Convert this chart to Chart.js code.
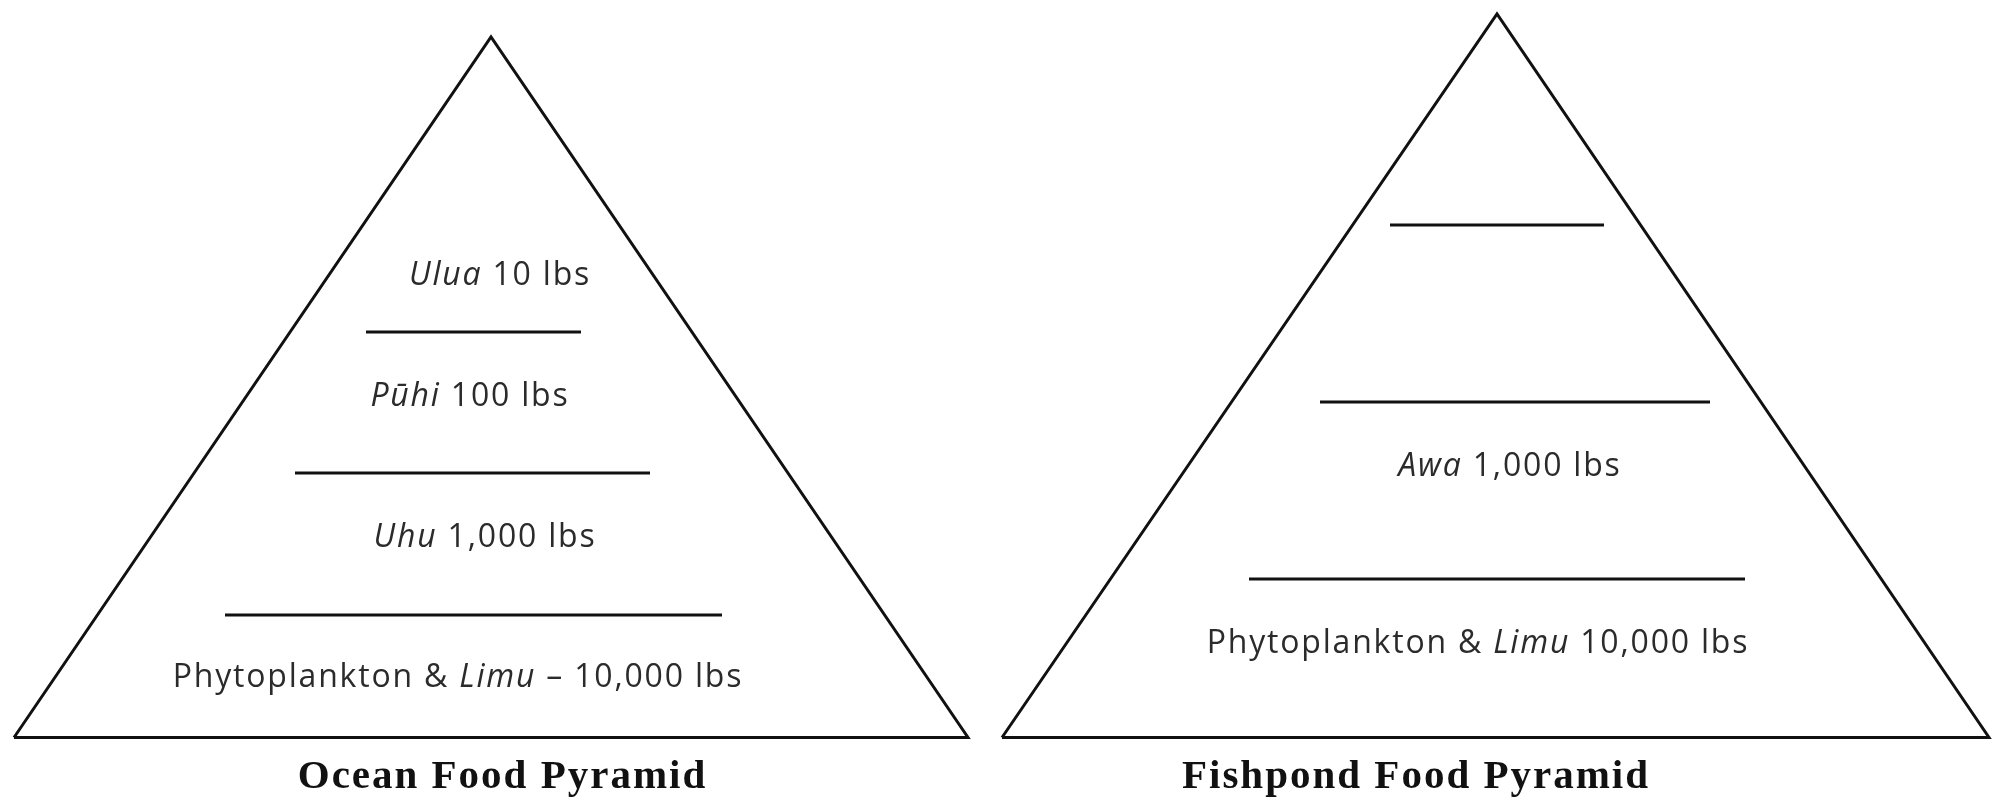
<!DOCTYPE html>
<html>
<head>
<meta charset="utf-8">
<script src="https://cdn.jsdelivr.net/npm/chart.js@4.4.1/dist/chart.umd.min.js"></script>
<style>
  html, body { margin: 0; padding: 0; background: #ffffff; }
  #wrap { width: 1992px; height: 800px; }
</style>
</head>
<body>
<div id="wrap"><canvas id="c" width="1992" height="800"></canvas></div>
<script>
// Diagram units: x 0..199.2, y 0..80 (y measured upward)
const oceanTriangleX = [1.4, 49.1, 96.8, 1.4];
const oceanTriangleY = [6.25, 76.3, 6.25, 6.25];
const oceanLevelY  = [46.8, 32.7, 18.5];
const oceanLevelX0 = [36.6, 29.5, 22.5];
const oceanLevelX1 = [58.1, 65.0, 72.2];

const fishTriangleX = [100.2, 149.7, 198.9, 100.2];
const fishTriangleY = [6.25, 78.6, 6.25, 6.25];
const fishLevelY  = [57.5, 39.8, 22.1];
const fishLevelX0 = [139.0, 132.0, 124.9];
const fishLevelX1 = [160.4, 171.0, 174.5];

// label text pieces: [text, italic]
const oceanLabels = [
  [['Ulua', 1], [' 10 lbs', 0]],
  [['Pūhi', 1], [' 100 lbs', 0]],
  [['Uhu', 1], [' 1,000 lbs', 0]],
  [['Phytoplankton & ', 0], ['Limu', 1], [' – 10,000 lbs', 0]]
];
const oceanLabelX = [50.0, 47.0, 48.5, 45.8];
const oceanLabelY = [51.5, 39.4, 25.3, 11.3];

const fishLabels = [
  [['Awa', 1], [' 1,000 lbs', 0]],
  [['Phytoplankton & ', 0], ['Limu', 1], [' 10,000 lbs', 0]]
];
const fishLabelX = [151.0, 147.8];
const fishLabelY = [32.4, 14.7];

const titles = ['Ocean Food Pyramid', 'Fishpond Food Pyramid'];
const titleX = [50.25, 141.6];
const titleY = [1.2, 1.2];

function pts(xs, ys) { return xs.map((x, i) => ({ x: x, y: ys[i] })); }

const lineStyle = {
  borderColor: '#111111',
  borderWidth: 3,
  pointRadius: 0,
  showLine: true,
  tension: 0,
  fill: false,
  borderJoinStyle: 'miter',
  borderCapStyle: 'butt',
  clip: false
};

const datasets = [];
datasets.push(Object.assign({ data: pts(oceanTriangleX, oceanTriangleY) }, lineStyle));
datasets.push(Object.assign({ data: pts(fishTriangleX, fishTriangleY) }, lineStyle));
oceanLevelY.forEach((y, i) => {
  datasets.push(Object.assign({ data: [{ x: oceanLevelX0[i], y: y }, { x: oceanLevelX1[i], y: y }] }, lineStyle));
});
fishLevelY.forEach((y, i) => {
  datasets.push(Object.assign({ data: [{ x: fishLevelX0[i], y: y }, { x: fishLevelX1[i], y: y }] }, lineStyle));
});

const BODY_SIZE = 32, BODY_SPACING = 1.8;
const TITLE_SIZE = 41, TITLE_SPACING = 2.0;

function bodyFont(italic) {
  return (italic ? 'italic ' : '') + BODY_SIZE + 'px "Open Sans", "DejaVu Sans", sans-serif';
}

function drawRich(ctx, pieces, cx, by) {
  ctx.letterSpacing = BODY_SPACING + 'px';
  let total = 0;
  const widths = pieces.map(p => {
    ctx.font = bodyFont(p[1]);
    const w = ctx.measureText(p[0]).width;
    total += w;
    return w;
  });
  let x = cx - total / 2;
  pieces.forEach((p, i) => {
    ctx.font = bodyFont(p[1]);
    ctx.fillText(p[0], x, by);
    x += widths[i];
  });
}

const textPlugin = {
  id: 'pyramidText',
  afterDatasetsDraw(chart) {
    const ctx = chart.ctx;
    const sx = chart.scales.x, sy = chart.scales.y;
    ctx.save();
    ctx.textBaseline = 'alphabetic';
    ctx.textAlign = 'left';
    ctx.fillStyle = '#2b2b2b';
    oceanLabels.forEach((pieces, i) => {
      drawRich(ctx, pieces, sx.getPixelForValue(oceanLabelX[i]), sy.getPixelForValue(oceanLabelY[i]));
    });
    fishLabels.forEach((pieces, i) => {
      drawRich(ctx, pieces, sx.getPixelForValue(fishLabelX[i]), sy.getPixelForValue(fishLabelY[i]));
    });
    ctx.fillStyle = '#111111';
    ctx.font = 'bold ' + TITLE_SIZE + 'px "Liberation Serif", "DejaVu Serif", serif';
    ctx.letterSpacing = TITLE_SPACING + 'px';
    ctx.textAlign = 'left';
    titles.forEach((t, i) => {
      const w = ctx.measureText(t).width;
      ctx.fillText(t, sx.getPixelForValue(titleX[i]) - w / 2, sy.getPixelForValue(titleY[i]));
    });
    ctx.restore();
  }
};

new Chart(document.getElementById('c'), {
  type: 'scatter',
  data: { datasets: datasets },
  options: {
    responsive: false,
    animation: false,
    events: [],
    layout: { padding: 0 },
    plugins: { legend: { display: false }, tooltip: { enabled: false }, title: { display: false } },
    scales: {
      x: { type: 'linear', display: false, min: 0, max: 199.2 },
      y: { type: 'linear', display: false, min: 0, max: 80 }
    }
  },
  plugins: [textPlugin]
});
</script>
</body>
</html>
